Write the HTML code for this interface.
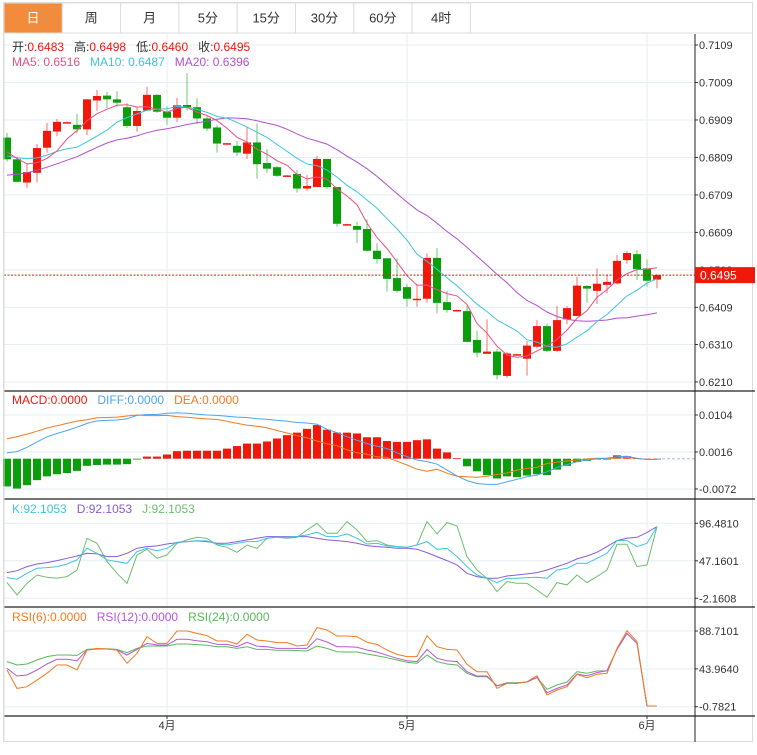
<!DOCTYPE html>
<html><head><meta charset="utf-8">
<style>
html,body{margin:0;padding:0;background:#fff;}
body{width:757px;height:750px;overflow:hidden;font-family:"Liberation Sans","Noto Sans CJK SC",sans-serif;}
svg text{font-family:"Liberation Sans","Noto Sans CJK SC",sans-serif;}
</style></head>
<body>
<svg id="chart" width="757" height="750" viewBox="0 0 757 750" xmlns="http://www.w3.org/2000/svg">
  <rect x="0" y="0" width="757" height="750" fill="#fff"/>
  <rect x="3.5" y="2.5" width="749" height="739" fill="none" stroke="#dcdcdc"/>
  <g id="tabs"></g>
  <g id="grid"></g>
  <g id="marks"></g>
  <g id="axes"></g>
  <g id="legends"></g>
</svg>
<script>
// ---- data ----
const priorCloses=[.6700,.6690,.6705,.6715,.6720,.6710,.6700,.6715,.6725,.6730,.6790,.6800,.6810,.6805,.6805,.6835,.6840,.6820,.6821];
const opens=[.6862,.6804,.6742,.6768,.6835,.6878,.6903,.6896,.6884,.6961,.6974,.6964,.6943,.6893,.6934,.6976,.6931,.6915,.6949,.6943,.6913,.6889,.6847,.6840,.6819,.6849,.6794,.6783,.6761,.6765,.6726,.6730,.6805,.6730,.6631,.6626,.6618,.6560,.6540,.6487,.6463,.6432,.6432,.6541,.6423,.6402,.6399,.6322,.6285,.6291,.6226,.6284,.6272,.6304,.6359,.6293,.6377,.6386,.6466,.6453,.6469,.6473,.6535,.6551,.6513,.6483];
const closes=[.6804,.6744,.6770,.6834,.6880,.6904,.6903,.6884,.6964,.6973,.6964,.6955,.6893,.6933,.6976,.6931,.6915,.6948,.6943,.6913,.6886,.6846,.6847,.6822,.6849,.6791,.6779,.6760,.6761,.6726,.6733,.6805,.6730,.6632,.6631,.6616,.6560,.6538,.6485,.6453,.6432,.6432,.6541,.6421,.6402,.6402,.6317,.6288,.6291,.6228,.6286,.6284,.6307,.6359,.6293,.6375,.6407,.6467,.6459,.6472,.6477,.6533,.6554,.6511,.6480,.6495];
const highs=[.6875,.6810,.6792,.6845,.6901,.6912,.6905,.6925,.6965,.6989,.6984,.6986,.6954,.6944,.6998,.6978,.6946,.6968,.7034,.6967,.6919,.6896,.6848,.6853,.6889,.6900,.6831,.6786,.6762,.6776,.6762,.6813,.6805,.6730,.6632,.6637,.6644,.6580,.6540,.6540,.6471,.6471,.6553,.6567,.6453,.6403,.6412,.6347,.6377,.6298,.6290,.6285,.6319,.6375,.6366,.6413,.6413,.6491,.6469,.6513,.6497,.6549,.6560,.6562,.6537,.6498];
const lows=[.6798,.6742,.6727,.6742,.6822,.6866,.6902,.6874,.6869,.6934,.6941,.6944,.6888,.6878,.6933,.6928,.6896,.6904,.6934,.6898,.6880,.6822,.6846,.6813,.6805,.6752,.6768,.6757,.6760,.6715,.6720,.6730,.6725,.6624,.6630,.6581,.6558,.6526,.6451,.6448,.6411,.6411,.6421,.6393,.6395,.6401,.6317,.6276,.6285,.6217,.6221,.6283,.6227,.6300,.6290,.6291,.6364,.6386,.6421,.6418,.6447,.6470,.6525,.6482,.6464,.6460];
const macdHist=[-.0066,-.0071,-.0063,-.0051,-.0042,-.0037,-.0034,-.0029,-.0017,-.0015,-.0014,-.0014,-.0013,-.0002,.0005,.0005,.0010,.0018,.0019,.0019,.0019,.0019,.0024,.0030,.0036,.0036,.0041,.0048,.0056,.0062,.0071,.0080,.0069,.0062,.0062,.0060,.0051,.0051,.0042,.0040,.0040,.0044,.0046,.0024,.0015,.0001,-.0018,-.0030,-.0039,-.0047,-.0042,-.0044,-.0040,-.0037,-.0039,-.0026,-.0017,-.0008,-.0005,-.0002,0,.0008,.0006,.0001,0,0];
const diffLine=[.0014,.0017,.0027,.0040,.0052,.0060,.0067,.0075,.0084,.0090,.0091,.0092,.0095,.0103,.0105,.0105,.0108,.0109,.0108,.0106,.0104,.0103,.0101,.0099,.0098,.0095,.0094,.0091,.0089,.0086,.0085,.0082,.0070,.0062,.0052,.0044,.0036,.0030,.0024,.0014,.0005,-.0003,-.0007,-.0013,-.0027,-.0041,-.0052,-.0059,-.0061,-.0061,-.0055,-.0049,-.0043,-.0039,-.0031,-.0021,-.0014,-.0007,-.0003,0,.0001,.0005,.0006,.0001,-.0002,-.0002];
const kLine=[25.0,22.9,30.7,37.3,38.2,39.5,43.0,48.3,63.6,57.0,48.3,46.1,43.9,59.2,63.6,60.5,63.6,71.5,72.4,73.7,73.3,69.3,68.0,70.2,72.4,72.4,76.8,78.1,78.1,79.0,81.2,84.7,79.0,79.0,82.5,76.8,69.3,70.2,66.7,65.8,64.9,68.0,72.4,62.3,63.6,52.7,39.5,28.5,24.2,18.5,24.2,24.2,25.0,25.5,24.2,35.1,37.3,43.9,43.9,50.5,57.0,73.7,73.7,65.8,70.2,92.1];
const dLine=[31.6,34.2,39.5,43.0,44.8,47.4,50.5,53.5,57.0,56.2,52.7,52.7,57.0,63.6,65.8,66.7,69.3,71.1,72.4,73.3,72.4,70.2,70.2,72.4,74.6,76.8,79.0,79.0,79.0,79.0,79.0,76.8,74.6,73.7,72.4,70.2,67.1,65.8,64.9,63.6,63.6,62.3,57.9,52.7,47.4,41.7,30.7,26.4,24.2,24.2,27.2,28.5,29.9,31.6,35.1,39.5,43.9,49.6,53.5,58.4,65.8,73.7,76.8,78.1,84.2,92.1];
const jLine=[18.5,2.2,17.6,28.5,25.5,24.2,26.4,35.1,76.8,70.2,46.1,30.7,17.6,54.9,62.3,50.5,54.9,70.2,74.6,78.1,76.8,68.0,64.9,58.4,68.0,63.6,76.8,78.1,76.8,78.1,87.7,96.5,83.3,83.3,98.7,87.7,72.4,73.7,68.0,65.8,64.9,68.0,98.7,82.5,97.4,93.0,52.7,35.1,24.2,6.6,19.8,17.6,17.6,8.8,-0.9,18.5,15.4,28.5,18.5,26.4,35.1,68.9,68.9,39.5,41.7,92.1];
const rsi6=[42.6,20.9,22.9,30.7,38.7,48.5,48.5,42.6,66.3,68.2,67.4,66.3,50.5,62.3,82.0,74.1,74.1,88.7,88.7,85.9,83.2,76.9,76.9,73.3,84.8,78.1,76.9,75.0,75.0,71.0,72.2,92.7,89.9,82.8,82.8,82.0,75.3,72.9,66.3,61.1,58.4,58.4,83.2,70.2,67.0,66.3,49.3,40.6,40.6,20.9,26.8,26.8,28.8,35.9,13.1,19.0,22.9,37.5,33.5,37.5,38.7,68.2,89.1,76.1,0.0,0.0];
const rsi12=[44.5,35.5,36.7,42.6,49.7,55.2,55.2,53.6,66.3,67.4,67.4,66.3,60.3,67.0,74.1,72.2,72.2,78.9,78.9,77.3,76.1,72.9,72.9,70.2,75.3,70.9,70.2,68.2,68.2,68.2,68.2,79.6,75.7,70.2,70.2,69.4,66.3,63.9,60.0,56.4,53.6,52.5,67.0,56.4,53.6,52.5,40.6,35.5,35.5,23.7,26.9,26.9,28.4,33.9,15.8,20.9,24.9,37.9,35.9,39.5,41.8,67.0,85.9,74.1,0.0,0.0];
const rsi24=[52.5,48.5,49.7,54.4,58.4,60.3,60.3,59.9,67.0,67.8,67.8,67.0,63.1,68.2,71.0,71.0,71.0,73.3,73.3,72.6,71.8,70.2,70.2,68.2,70.2,67.0,67.0,65.9,65.9,65.5,65.1,71.0,68.2,64.3,63.9,63.9,61.5,59.5,57.2,54.4,51.7,50.5,60.3,52.5,49.7,48.5,38.7,34.7,34.7,24.1,27.6,27.6,28.4,33.9,19.8,24.9,28.4,40.6,38.7,41.4,41.8,67.0,85.9,74.1,0.0,0.0];
const priceTicks=["0.7109","0.7009","0.6909","0.6809","0.6709","0.6609","0.6509","0.6409","0.6310","0.6210"];
const macdTicks=["0.0104","0.0016","-0.0072"];
const kdjTicks=["96.4810","47.1601","-2.1608"];
const rsiTicks=["88.7101","43.9640","-0.7821"];
const monthLabels=["4月","5月","6月"];
const monthIndex=[16,40,64];
const tabLabels=["日","周","月","5分","15分","30分","60分","4时"];

// ---- geometry ----
const NS="http://www.w3.org/2000/svg";
const AX=695, LEFT=4;
const xc=i=>7+10*i;
const yP=v=>45+(0.7109-v)*3748;
const yM=v=>458.7-v*4205;
const yK=v=>523.3+(96.481-v)*0.7603;
const yR=v=>631+(88.7101-v)*0.846;
const RED="#f2170b", GREEN="#0a9f0a";
function mk(tag,attrs,parent){const e=document.createElementNS(NS,tag);for(const k in attrs)e.setAttribute(k,attrs[k]);parent.appendChild(e);return e;}
const tabsG=document.getElementById('tabs'),gridG=document.getElementById('grid'),marks=document.getElementById('marks'),axes=document.getElementById('axes'),leg=document.getElementById('legends');

// tabs
tabLabels.forEach((t,i)=>{
  const x=4+i*58.3;
  const g=mk('g',{},tabsG);
  
  
  mk('rect',{x:x,y:3,width:58.3,height:30,fill:i===0?'#f28c3c':'#fff',stroke:'#dddddd'},g);
  const tx=mk('text',{x:x+29,y:22.5,'text-anchor':'middle','font-size':13,fill:i===0?'#fff':'#333'},g);
  tx.textContent=t;
});
mk('line',{x1:4,y1:33,x2:753,y2:33,stroke:'#dddddd'},tabsG);

// panel grids & axes
const panels=[{ticks:priceTicks,y:priceTicks.map(t=>yP(+t)),top:34,bot:391},
  {ticks:macdTicks,y:macdTicks.map(t=>yM(+t)),top:391,bot:499},
  {ticks:kdjTicks,y:kdjTicks.map(t=>yK(+t)),top:499,bot:607},
  {ticks:rsiTicks,y:rsiTicks.map(t=>yR(+t)),top:607,bot:716}];
panels.forEach((p,pi)=>{
  p.y.forEach((y,k)=>{
    mk('line',{x1:LEFT,y1:y,x2:AX,y2:y,stroke:'#e5eef5'},gridG);
    mk('line',{x1:AX,y1:y,x2:AX+3,y2:y,stroke:'#333'},axes);
    const t=mk('text',{x:AX+4,y:y+4,'font-size':11,fill:'#333'},axes);
    
    
    t.textContent=p.ticks[k];
  });
  monthIndex.forEach(i=>mk('line',{x1:xc(i),y1:p.top,x2:xc(i),y2:p.bot,stroke:'#e5eef5'},gridG));
  if(pi>0) mk('line',{x1:LEFT,y1:p.top,x2:755,y2:p.top,stroke:'#222','stroke-width':1.2},axes);
});
mk('line',{x1:LEFT,y1:716,x2:755,y2:716,stroke:'#222','stroke-width':1.2},axes);
mk('line',{x1:AX,y1:34,x2:AX,y2:742,stroke:'#222'},axes);
mk('line',{x1:LEFT,y1:34,x2:LEFT,y2:742,stroke:'#dcdcdc'},axes);
monthLabels.forEach((m,k)=>{
  mk('line',{x1:xc(monthIndex[k]),y1:716,x2:xc(monthIndex[k]),y2:719,stroke:'#333'},axes);
  const t=mk('text',{x:xc(monthIndex[k]),y:729,'text-anchor':'middle','font-size':11,fill:'#333'},axes);
  
  
  t.textContent=m;
});

// candles
const candleG=mk('g',{},marks);


closes.forEach((c,i)=>{
  const o=opens[i],up=c>=o,col=up?RED:GREEN,wc=up?'#f5716a':'#6bc96b';
  const x=xc(i);
  const w=mk('line',{x1:x,y1:yP(highs[i]),x2:x,y2:yP(lows[i]),stroke:wc,'stroke-width':1},candleG);
  
  const top=yP(Math.max(o,c)),h=Math.max(1.5,yP(Math.min(o,c))-top);
  const r=mk('rect',{x:x-4,y:top,width:8,height:h,fill:col},candleG);
  
  
});
// moving averages
const all=priorCloses.concat(closes),P=priorCloses.length;
function ma(n){return closes.map((_,i)=>{let s=0,c=0;for(let k=P+i;k>P+i-n&&k>=0;k--){s+=all[k];c++;}return s/c;});}
function line(vals,yf,color,name,parent,sw){
  const d=vals.map((v,i)=>(i?'L':'M')+xc(i).toFixed(1)+','+yf(v).toFixed(1)).join('');
  const p=mk('path',{d:d,fill:'none',stroke:color,'stroke-width':sw||1},parent);
  
  
  return p;
}
line(ma(20),yP,'#b24fce','ma20-line',marks);
line(ma(10),yP,'#3fc5dc','ma10-line',marks);
line(ma(5),yP,'#ec4f82','ma5-line',marks);
// last price
const lp=closes[closes.length-1];
mk('line',{x1:LEFT,y1:yP(lp),x2:AX,y2:yP(lp),stroke:'#e8140a','stroke-dasharray':'2,1.5'},marks);
const lpb=mk('rect',{x:AX,y:yP(lp)-8,width:60,height:16,fill:'#f2170b'},axes);


const lpt=mk('text',{x:AX+5,y:yP(lp)+4.5,'font-size':12,fill:'#fff'},axes);
lpt.textContent=lp.toFixed(4);

// MACD
const macdG=mk('g',{},marks);


macdHist.forEach((v,i)=>{
  const y0=yM(0),y1=yM(v);
  const b=mk('rect',{x:xc(i)-4,y:Math.min(y0,y1),width:8,height:Math.max(0.8,Math.abs(y1-y0)),fill:v>=0?RED:GREEN},macdG);
  
});
mk('line',{x1:xc(closes.length-1),y1:yM(0),x2:AX,y2:yM(0),stroke:'#8fc3ee','stroke-dasharray':'3,2'},marks);
const deaLine=diffLine.map((d,i)=>d-macdHist[i]/2);
line(deaLine,yM,'#f47a20','dea-line',marks);
line(diffLine,yM,'#4aa5f0','diff-line',marks);
// KDJ
line(jLine,yK,'#6cbf6c','kdj-j-line',marks);
line(dLine,yK,'#8a5cd6','kdj-d-line',marks);
line(kLine,yK,'#3fc5dc','kdj-k-line',marks);
// RSI
line(rsi24,yR,'#5cb85c','rsi24-line',marks);
line(rsi12,yR,'#b25ad6','rsi12-line',marks);
line(rsi6,yR,'#f47a20','rsi6-line',marks);

// legends
function legend(items,y,name){
  const t=mk('text',{x:12,y:y,'font-size':12},leg);
  
  
  items.forEach(([s,c,dx])=>{const ts=mk('tspan',{fill:c},t);if(dx)ts.setAttribute('dx',dx);ts.textContent=s;});
}
legend([["开:","#333"],["0.6483","#f2170b"],["高:","#333",10],["0.6498","#f2170b"],["低:","#333",10],["0.6460","#f2170b"],["收:","#333",10],["0.6495","#f2170b"]],51,'ohlc-legend');
legend([["MA5: 0.6516","#ec4f82"],["MA10: 0.6487","#3fc5dc",10],["MA20: 0.6396","#b24fce",10]],66,'ma-legend');
legend([["MACD:0.0000","#f2170b"],["DIFF:0.0000","#4aa5f0",10],["DEA:0.0000","#f47a20",10]],404,'macd-legend');
legend([["K:92.1053","#3fc5dc"],["D:92.1053","#8a5cd6",10],["J:92.1053","#6cbf6c",10]],513,'kdj-legend');
legend([["RSI(6):0.0000","#f47a20"],["RSI(12):0.0000","#b25ad6",10],["RSI(24):0.0000","#5cb85c",10]],621,'rsi-legend');
</script>
</body></html>
